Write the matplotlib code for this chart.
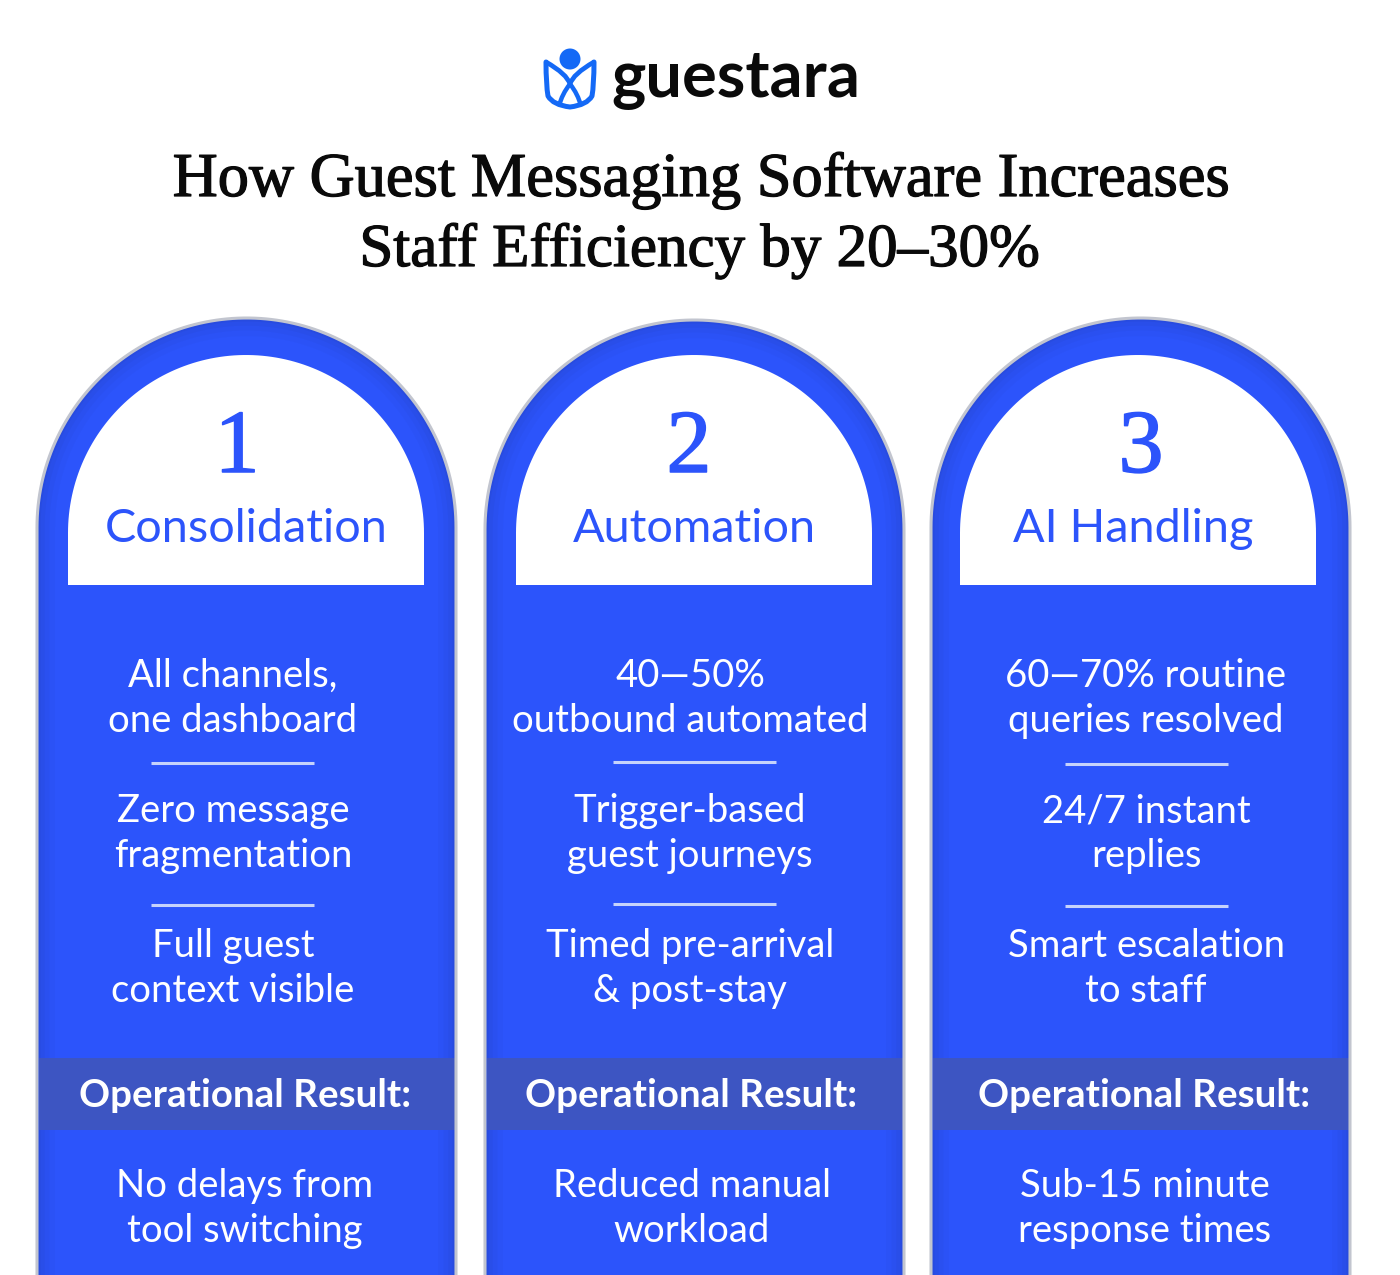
import matplotlib
matplotlib.use("Agg")
import matplotlib.pyplot as plt
import matplotlib.patheffects as pe
from matplotlib.path import Path
from matplotlib.patches import PathPatch, Rectangle, Circle
import numpy as np

BRAND = "guestara"
TITLE_LINES = ["How Guest Messaging Software Increases", "Staff Efficiency by 20–30%"]
NUMBERS = ["1", "2", "3"]
HEADINGS = ["Consolidation", "Automation", "AI Handling"]
BULLETS_1 = [["All channels,", "one dashboard"], ["Zero message", "fragmentation"], ["Full guest", "context visible"]]
BULLETS_2 = [["40—50%", "outbound automated"], ["Trigger-based", "guest journeys"], ["Timed pre-arrival", "& post-stay"]]
BULLETS_3 = [["60—70% routine", "queries resolved"], ["24/7 instant", "replies"], ["Smart escalation", "to staff"]]
BAND_LABEL = "Operational Result:"
RESULTS = [["No delays from", "tool switching"], ["Reduced manual", "workload"], ["Sub-15 minute", "response times"]]

BLUE = "#2c54fb"
BAND = "#3d55c2"
EDGE = "#c2c5cf"
RULE = "#c6d3fb"
LOGO = "#1469f6"
SANS = "Lato"
SERIF = "Liberation Serif"

W, H = 1400, 1275
fig = plt.figure(figsize=(W / 100, H / 100), dpi=100)
ax = fig.add_axes([0, 0, 1, 1])
ax.set_xlim(0, W)
ax.set_ylim(H, 0)
ax.axis("off")


def px(size):
    return size * 0.72


def arch(x0, x1, top, bottom):
    r = (x1 - x0) / 2
    cx = (x0 + x1) / 2
    cy = top + r
    t = np.linspace(np.pi, 2 * np.pi, 120)
    xs = np.r_[x0, cx + r * np.cos(t), x1]
    ys = np.r_[bottom, cy + r * np.sin(t), bottom]
    return Path(np.c_[xs, ys])


panels = [
    dict(x0=37, x1=456, top=318, ix0=68, ix1=424, num=237, head=246, body=233, band=245, res=245,
         bullets=BULLETS_1, rules=(763, 905), r0=151),
    dict(x0=485, x1=904, top=320, ix0=516, ix1=872, num=689, head=694, body=690, band=691, res=692,
         bullets=BULLETS_2, rules=(762, 904), r0=613),
    dict(x0=931, x1=1350, top=318, ix0=960, ix1=1316, num=1141, head=1133, body=1146, band=1144, res=1145,
         bullets=BULLETS_3, rules=(764, 906), r0=1065),
]

heavy = [pe.withStroke(linewidth=1.1, foreground=BLUE)]
title_fx = [pe.withStroke(linewidth=0.9, foreground="#0a0a0a")]

for i, p in enumerate(panels):
    outline = arch(p["x0"], p["x1"], p["top"], H + 20)
    body = PathPatch(outline, fc=BLUE, ec="none", zorder=1)
    ax.add_patch(body)
    # soft inner shadow along the outer edge
    for lw, a in [(26, 0.03), (18, 0.04), (11, 0.05), (5, 0.07)]:
        s = PathPatch(outline, fc="none", ec="#1a2a70", lw=lw, alpha=a, zorder=2)
        ax.add_patch(s)
        s.set_clip_path(body)
    ax.add_patch(PathPatch(outline, fc="none", ec=EDGE, lw=2.2, zorder=3))
    ax.add_patch(Rectangle((p["x0"] + 1.5, 1058), p["x1"] - p["x0"] - 3, 72, fc=BAND, ec="none", zorder=2.5))
    ax.add_patch(PathPatch(arch(p["ix0"], p["ix1"], 355, 585), fc="white", ec="none", zorder=4))

    ax.text(p["num"], 472, NUMBERS[i], family=SERIF, fontsize=px(90), color=BLUE, ha="center",
            va="baseline", zorder=5, path_effects=heavy)
    ax.text(p["head"], 542, HEADINGS[i], family=SANS, fontsize=px(46.8), color=BLUE, ha="center",
            va="baseline", zorder=5)
    for b, base in zip(p["bullets"], (687, 822, 957)):
        for j, line in enumerate(b):
            ax.text(p["body"], base + 45 * j, line, family=SANS, fontsize=px(38.3), color="white",
                    ha="center", va="baseline", zorder=5)
    for y in p["rules"]:
        ax.plot([p["r0"], p["r0"] + 163], [y, y], color=RULE, lw=2.2, solid_capstyle="butt", zorder=5)
    ax.text(p["band"], 1107, BAND_LABEL, family=SANS, fontweight="bold", fontsize=px(38.5), color="white",
            ha="center", va="baseline", zorder=5)
    for j, line in enumerate(RESULTS[i]):
        ax.text(p["res"], 1197 + 45 * j, line, family=SANS, fontsize=px(38.3), color="white",
                ha="center", va="baseline", zorder=5)

# title
ax.text(701, 196, TITLE_LINES[0], family=SERIF, fontsize=px(62.4), color="#0a0a0a", ha="center",
        va="baseline", path_effects=title_fx)
ax.text(700, 266, TITLE_LINES[1], family=SERIF, fontsize=px(61), color="#0a0a0a", ha="center",
        va="baseline", path_effects=title_fx)

# logo
ax.add_patch(Circle((570, 59), 10.5, fc=LOGO, ec="none"))
C3, M = Path.CURVE3, Path.MOVETO
cup = Path([(546, 62), (546, 85), (548, 96), (553, 105), (570, 107), (587, 105), (592, 96), (594, 85), (594, 62)],
           [M, C3, C3, C3, C3, C3, C3, C3, C3])
ax.add_patch(PathPatch(cup, fc="none", ec=LOGO, lw=3.6, capstyle="round", joinstyle="round"))
for a, b, c in [((546, 62), (567, 74), (570, 84)), ((594, 62), (573, 74), (570, 84))]:
    ax.add_patch(PathPatch(Path([a, b, c], [M, C3, C3]), fc="none", ec=LOGO, lw=3.4))
for pts in [[(570, 84), (562, 94), (559, 106)], [(570, 84), (578, 94), (581, 106)]]:
    ax.add_patch(PathPatch(Path(pts, [M, C3, C3]), fc="none", ec=LOGO, lw=3.2))
ax.text(611, 97, BRAND, family=SANS, fontweight="bold", fontsize=px(65), color="#0a0a0a", ha="left", va="baseline")

fig.savefig("out.png", dpi=100, facecolor="white")
